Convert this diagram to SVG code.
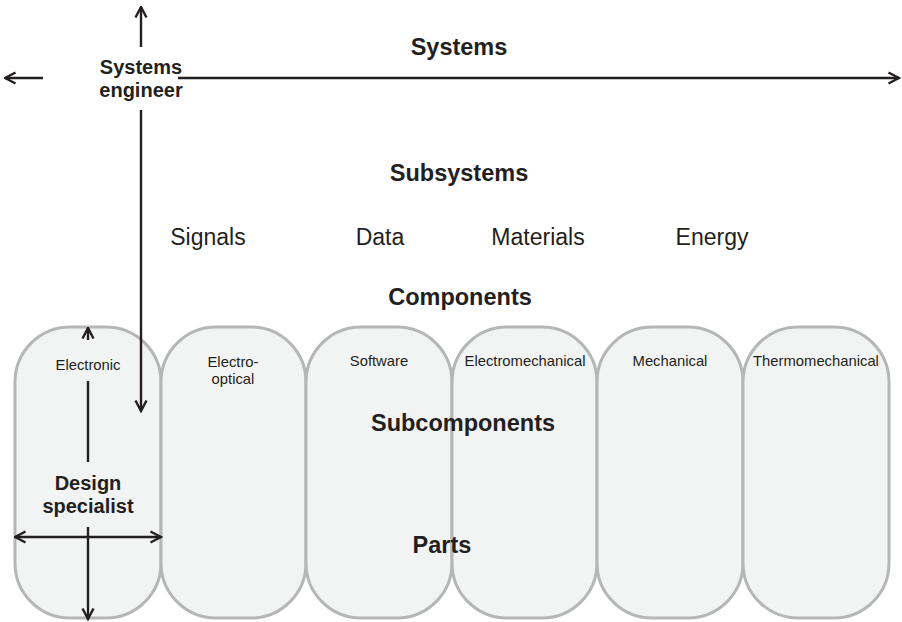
<svg xmlns="http://www.w3.org/2000/svg" width="902" height="622" viewBox="0 0 902 622">
<defs>
<marker id="ah" viewBox="0 0 14 14" refX="12.5" refY="7" markerWidth="14" markerHeight="14" markerUnits="userSpaceOnUse" orient="auto-start-reverse">
<path d="M2,1.5 L12.5,7 L2,12.5" fill="none" stroke="#231f20" stroke-width="2.4"/>
</marker>
</defs>
<style>
.pill{fill:#f2f3f3;stroke:#b5b6b8;stroke-width:3}
.b{font-family:"Liberation Sans",Arial,sans-serif;font-weight:bold;fill:#231f20;text-anchor:middle}
.r{font-family:"Liberation Sans",Arial,sans-serif;fill:#231f20;text-anchor:middle;font-size:23px}
.s{font-family:"Liberation Sans",Arial,sans-serif;fill:#231f20;text-anchor:middle;font-size:14.8px}
.ln{stroke:#231f20;stroke-width:2.4;fill:none}
</style>
<rect width="902" height="622" fill="#ffffff"/>
<g id="electronic"><rect class="pill" x="15" y="327" width="146" height="291" rx="55" ry="55"/><text class="s" x="88" y="370">Electronic</text></g>
<g id="electro-optical"><rect class="pill" x="161" y="327" width="145" height="291" rx="55" ry="55"/><text class="s" x="233" y="367">Electro-</text><text class="s" x="233" y="384">optical</text></g>
<g id="software"><rect class="pill" x="306" y="327" width="146" height="291" rx="55" ry="55"/><text class="s" x="379" y="366">Software</text></g>
<g id="electromechanical"><rect class="pill" x="452" y="327" width="145" height="291" rx="55" ry="55"/><text class="s" x="525" y="366">Electromechanical</text></g>
<g id="mechanical"><rect class="pill" x="597" y="327" width="146" height="291" rx="55" ry="55"/><text class="s" x="670" y="366">Mechanical</text></g>
<g id="thermomechanical"><rect class="pill" x="743" y="327" width="146" height="291" rx="55" ry="55"/><text class="s" x="816" y="366">Thermomechanical</text></g>
<g id="connectors">
<line class="ln" x1="141" y1="47" x2="141" y2="7" marker-end="url(#ah)"/>
<line class="ln" x1="43" y1="78" x2="5" y2="78" marker-end="url(#ah)"/>
<line class="ln" x1="178" y1="78" x2="899" y2="78" marker-end="url(#ah)"/>
<line class="ln" x1="141" y1="110" x2="141" y2="411" marker-end="url(#ah)"/>
<line class="ln" x1="88" y1="340" x2="88" y2="328" marker-end="url(#ah)"/>
<line class="ln" x1="88" y1="381" x2="88" y2="462"/>
<line class="ln" x1="15" y1="537" x2="161" y2="537" marker-start="url(#ah)" marker-end="url(#ah)"/>
<line class="ln" x1="88" y1="527" x2="88" y2="619" marker-end="url(#ah)"/>
</g>
<g id="systems-engineer"><text class="b" font-size="20" x="141" y="74">Systems</text><text class="b" font-size="20" x="141" y="97">engineer</text></g>
<g id="systems"><text class="b" font-size="23.5" x="459" y="55">Systems</text></g>
<g id="subsystems"><text class="b" font-size="23.5" x="459" y="181">Subsystems</text></g>
<g id="signals"><text class="r" x="208" y="245">Signals</text></g>
<g id="data"><text class="r" x="380" y="245">Data</text></g>
<g id="materials"><text class="r" x="538" y="245">Materials</text></g>
<g id="energy"><text class="r" x="712" y="245">Energy</text></g>
<g id="components"><text class="b" font-size="23.5" x="460" y="305">Components</text></g>
<g id="subcomponents"><text class="b" font-size="23.5" x="463" y="431">Subcomponents</text></g>
<g id="parts"><text class="b" font-size="23.5" x="442" y="553">Parts</text></g>
<g id="design-specialist"><text class="b" font-size="20" x="88" y="490">Design</text><text class="b" font-size="20" x="88" y="513">specialist</text></g>
</svg>
